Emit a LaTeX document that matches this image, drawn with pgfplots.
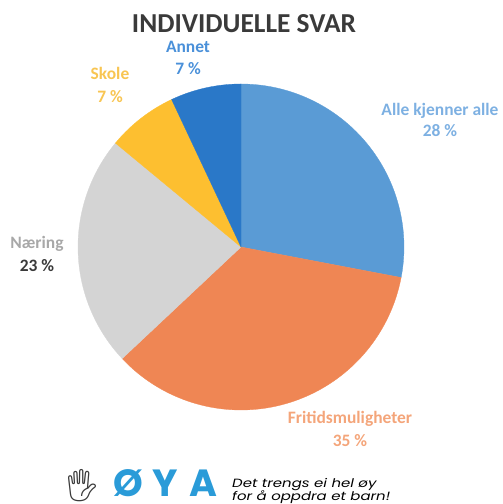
\documentclass[border=0pt]{standalone}
\usepackage{fontspec}
\setmainfont{Carlito}
\newfontfamily\poppins{Poppins}
\newfontfamily\emoji{Noto Emoji}
\usepackage{pgfplots}
\pgfplotsset{compat=1.18}
\definecolor{cAlle}{HTML}{5A9BD5}
\definecolor{cFrit}{HTML}{EF8654}
\definecolor{cNaer}{HTML}{D4D4D4}
\definecolor{cSkole}{HTML}{FDBF30}
\definecolor{cAnnet}{HTML}{2A78C8}
\definecolor{lAlle}{HTML}{7DB0E2}
\definecolor{lFrit}{HTML}{F4A57A}
\definecolor{lNaer}{HTML}{A8A8A8}
\definecolor{lSkole}{HTML}{F8C552}
\definecolor{lAnnet}{HTML}{4A90D9}
\definecolor{ctitle}{HTML}{3A3A3A}
\definecolor{clogo}{HTML}{2A9BD8}
% percentages
\def\pAlle{28}\def\pFrit{35}\def\pNaer{23}\def\pSkole{7}\def\pAnnet{7}
\pgfmathsetmacro\aA{90}
\pgfmathsetmacro\aB{\aA-3.6*\pAlle}
\pgfmathsetmacro\aC{\aB-3.6*\pFrit}
\pgfmathsetmacro\aD{\aC-3.6*\pNaer}
\pgfmathsetmacro\aE{\aD-3.6*\pSkole}
\pgfmathsetmacro\aF{\aE-3.6*\pAnnet}
\def\cx{241}\def\cy{257}\def\R{163}
\begin{document}
\begin{tikzpicture}
\useasboundingbox (0,0) rectangle (503bp,504bp);
\begin{axis}[at={(0,0)},anchor=south west,scale only axis,
  width=503bp,height=504bp,xmin=0,xmax=503,ymin=0,ymax=504,
  hide axis,clip=false]
\addplot[fill=cAlle,draw=cAlle,line width=0.3pt,domain=\aB:\aA,samples=90] ({\cx+\R*cos(x)},{\cy+\R*sin(x)}) -- (axis cs:\cx,\cy) -- cycle;
\addplot[fill=cFrit,draw=cFrit,line width=0.3pt,domain=\aC:\aB,samples=110] ({\cx+\R*cos(x)},{\cy+\R*sin(x)}) -- (axis cs:\cx,\cy) -- cycle;
\addplot[fill=cNaer,draw=cNaer,line width=0.3pt,domain=\aD:\aC,samples=80] ({\cx+\R*cos(x)},{\cy+\R*sin(x)}) -- (axis cs:\cx,\cy) -- cycle;
\addplot[fill=cSkole,draw=cSkole,line width=0.3pt,domain=\aE:\aD,samples=40] ({\cx+\R*cos(x)},{\cy+\R*sin(x)}) -- (axis cs:\cx,\cy) -- cycle;
\addplot[fill=cAnnet,draw=cAnnet,line width=0.3pt,domain=\aF:\aE,samples=40] ({\cx+\R*cos(x)},{\cy+\R*sin(x)}) -- (axis cs:\cx,\cy) -- cycle;
% title
\node[anchor=base,inner sep=0,text=ctitle,font=\fontsize{27.5}{30}\selectfont\bfseries] at (axis cs:244,471) {INDIVIDUELLE SVAR};
% labels
\tikzset{lbl/.style={anchor=base,inner sep=0,font=\fontsize{17.5}{20}\selectfont\bfseries}}
\node[lbl,text=lAnnet] at (axis cs:188,451) {Annet};
\node[lbl,text=lAnnet] at (axis cs:188,429) {\pAnnet\ \%};
\node[lbl,text=lSkole] at (axis cs:110,424) {Skole};
\node[lbl,text=lSkole] at (axis cs:110,401) {\pSkole\ \%};
\node[lbl,text=lAlle] at (axis cs:440,388) {Alle kjenner alle};
\node[lbl,text=lAlle] at (axis cs:440,367) {\pAlle\ \%};
\node[lbl,text=lNaer] at (axis cs:37,255) {Næring};
\node[lbl,text=ctitle] at (axis cs:37,232) {\pNaer\ \%};
\node[lbl,text=lFrit] at (axis cs:350,80) {Fritidsmuligheter};
\node[lbl,text=lFrit] at (axis cs:350,57) {\pFrit\ \%};
% logo
\node[inner sep=0,text=ctitle,font=\emoji\fontsize{32}{34}\selectfont] at (axis cs:82,18) {🖐};
\tikzset{logo/.style={anchor=base,inner sep=0,text=clogo,font=\poppins\fontsize{38}{42}\selectfont\bfseries}}
\node[logo] at (axis cs:128,7.5) {Ø};
\node[logo] at (axis cs:165,7.5) {Y};
\node[logo] at (axis cs:203,7.5) {A};
\node[anchor=base west,inner sep=0,text=black,font=\poppins\fontsize{12}{13}\selectfont\itshape] at (axis cs:232,17) {\scalebox{1.25}[1]{Det trengs ei hel øy}};
\node[anchor=base west,inner sep=0,text=black,font=\poppins\fontsize{12}{13}\selectfont\itshape] at (axis cs:232,4) {\scalebox{1.25}[1]{for å oppdra et barn!}};
\end{axis}
\end{tikzpicture}
\end{document}
